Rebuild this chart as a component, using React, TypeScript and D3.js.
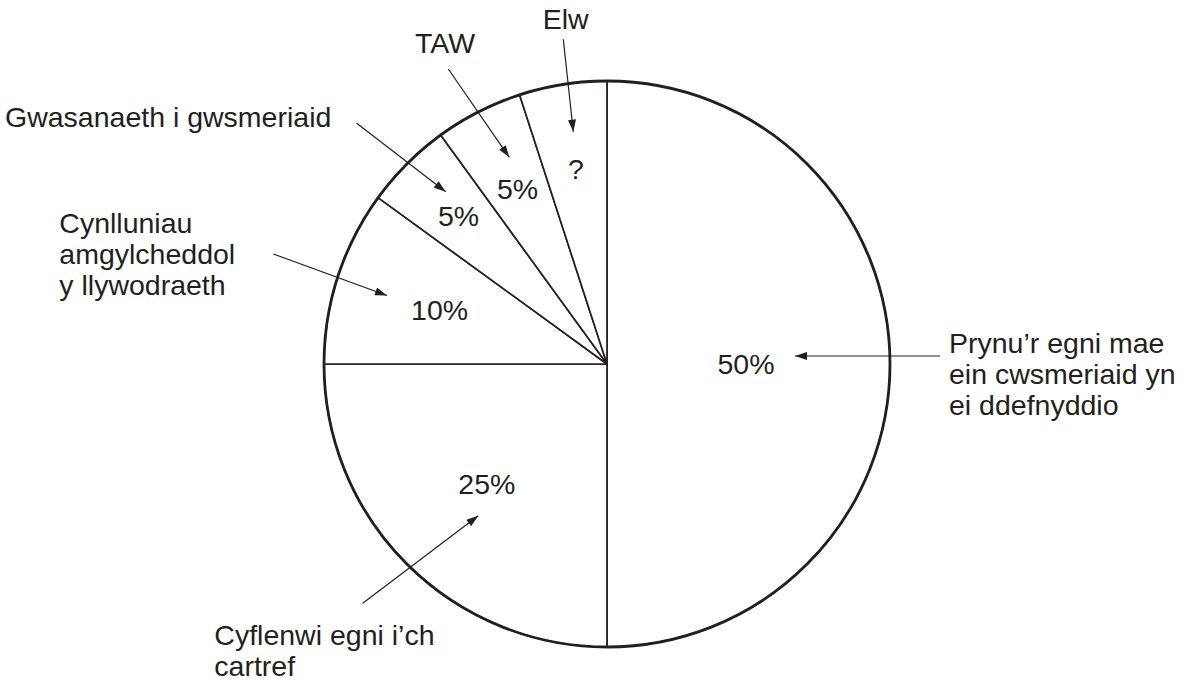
import React from "react";
import * as d3 from "d3";

// slices, clockwise from 12 o'clock
const slices = ["Prynu", "Cyflenwi", "Cynlluniau", "Gwasanaeth", "TAW", "Elw"];
const shares = [50, 25, 10, 5, 5, 5];
const shareLabels = ["50%", "25%", "10%", "5%", "5%", "?"];

// callout text, one array of lines per slice
const calloutLines = [
  ["Prynu\u2019r egni mae", "ein cwsmeriaid yn", "ei ddefnyddio"],
  ["Cyflenwi egni i\u2019ch", "cartref"],
  ["Cynlluniau", "amgylcheddol", "y llywodraeth"],
  ["Gwasanaeth i gwsmeriaid"],
  ["TAW"],
  ["Elw"],
];

const W = 1195;
const H = 681;
const cx = 607;
const cy = 364;
const R = 283;
const FONT = '"Liberation Sans", Arial, Helvetica, sans-serif';
const INK = "#231f20";
const FS = 28.5;
const LH = 30.8;

// distance of each % label from the centre
const labelR = [139, 170, 176, 210, 197, 198];

// callout layout, offsets from the pie centre: text start, arrow tail, arrow tip
const calloutText = [
  [342, -10.7], [-392.7, 281], [-547.7, -130.7], [-602, -237.3], [-192, -311.3], [-64.3, -334.7],
];
const arrowTail = [
  [333, -8], [-244.3, 239.3], [-333.7, -110], [-250.3, -240.7], [-158.7, -295], [-43.7, -324.7],
];
const arrowTip = [
  [188, -8], [-128.7, 151.7], [-220, -68.5], [-161.3, -172.3], [-97.7, -206.7], [-33.7, -232.3],
];

const App = () => {
  const ref = React.useRef<SVGSVGElement>(null);

  React.useEffect(() => {
    const svg = d3.select(ref.current);
    svg.selectAll("*").remove();

    svg.append("defs")
      .append("marker")
      .attr("id", "head")
      .attr("viewBox", "0 0 12 8")
      .attr("refX", 12)
      .attr("refY", 4)
      .attr("markerWidth", 13)
      .attr("markerHeight", 8)
      .attr("markerUnits", "userSpaceOnUse")
      .attr("orient", "auto")
      .append("path")
      .attr("d", "M0,0 L12,4 L0,8 Z")
      .attr("fill", INK);

    const pie = d3.pie<number>().sort(null).value((d) => d)(shares);
    const arc = d3.arc<d3.PieArcDatum<number>>().innerRadius(0).outerRadius(R);

    const g = svg.append("g").attr("transform", `translate(${cx},${cy})`);

    // slices
    g.selectAll("path.slice")
      .data(pie)
      .enter()
      .append("path")
      .attr("class", "slice")
      .attr("d", arc)
      .attr("fill", "white")
      .attr("stroke", INK)
      .attr("stroke-width", 1.7)
      .attr("stroke-linejoin", "round");

    // heavier rim
    g.append("circle")
      .attr("r", R)
      .attr("fill", "none")
      .attr("stroke", INK)
      .attr("stroke-width", 2.8);

    // % labels
    g.selectAll("text.pct")
      .data(pie)
      .enter()
      .append("text")
      .attr("class", "pct")
      .attr("x", (d, i) => Math.sin((d.startAngle + d.endAngle) / 2) * labelR[i])
      .attr("y", (d, i) => -Math.cos((d.startAngle + d.endAngle) / 2) * labelR[i])
      .attr("dy", "0.36em")
      .attr("text-anchor", "middle")
      .attr("font-family", FONT)
      .attr("font-size", FS)
      .attr("fill", INK)
      .text((d, i) => shareLabels[i]);

    // callouts
    slices.forEach((s, i) => {
      g.append("line")
        .attr("x1", arrowTail[i][0])
        .attr("y1", arrowTail[i][1])
        .attr("x2", arrowTip[i][0])
        .attr("y2", arrowTip[i][1])
        .attr("stroke", INK)
        .attr("stroke-width", 1.2)
        .attr("marker-end", "url(#head)");

      const t = g.append("text")
        .attr("font-family", FONT)
        .attr("font-size", FS)
        .attr("fill", INK);
      calloutLines[i].forEach((line, j) => {
        t.append("tspan")
          .attr("x", calloutText[i][0])
          .attr("y", calloutText[i][1] + j * LH)
          .text(line);
      });
    });
  }, []);

  return (
    <svg
      ref={ref}
      width={W}
      height={H}
      style={{ position: "absolute", left: 0, top: 0, background: "white" }}
    ></svg>
  );
};

export default App;
